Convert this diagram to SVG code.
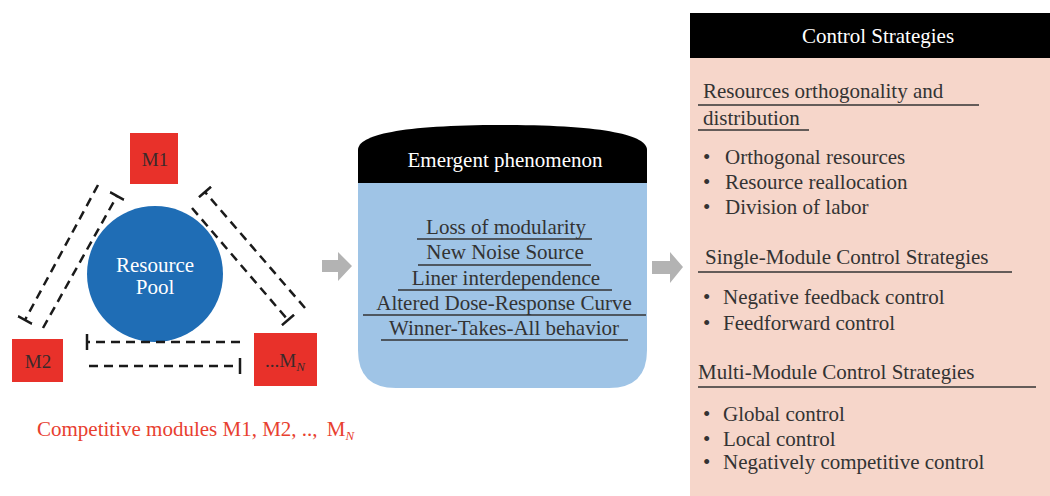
<svg xmlns="http://www.w3.org/2000/svg" width="1050" height="496" viewBox="0 0 1050 496">
<style>
text{font-family:"Liberation Serif","Times New Roman",serif;}
.mod{fill:#e8312a;}
.ml{fill:#3a2a2a;font-size:19px;text-anchor:middle;}
.dash{stroke:#1a1a1a;stroke-width:2.5;stroke-dasharray:9,6;fill:none;marker-end:url(#tbar);}
.garrow{fill:#b3b3b3;}
.item{fill:#333;font-size:21px;text-anchor:middle;}
.ul{stroke:#333;stroke-width:1.6;}
.rt{fill:#333;font-size:21px;}
.hd{fill:#fff;font-size:21px;text-anchor:middle;}
</style>
<defs>
<marker id="tbar" markerWidth="4" markerHeight="16" refX="2" refY="8" orient="auto" markerUnits="userSpaceOnUse">
<line x1="2" y1="0" x2="2" y2="16" stroke="#1a1a1a" stroke-width="2.5"/>
</marker>
</defs>
<rect width="1050" height="496" fill="#fff"/>

<g id="pool">
<circle cx="155" cy="274" r="68" fill="#1f6db5"/>
<text x="155" y="272" fill="#fff" font-size="21" text-anchor="middle">Resource</text>
<text x="155" y="294" fill="#fff" font-size="21" text-anchor="middle">Pool</text>
</g>
<g id="m1">
<rect class="mod" x="130" y="133" width="48" height="51"/>
<text class="ml" x="155" y="166">M1</text>
</g>
<g id="m2">
<rect class="mod" x="12" y="339" width="51" height="43"/>
<text class="ml" x="38" y="368">M2</text>
</g>
<g id="mn">
<rect class="mod" x="254" y="333" width="63" height="53"/>
<text class="ml" x="285" y="367">...M<tspan font-size="13" font-style="italic" dy="4">N</tspan></text>
</g>
<g id="connectors">
<line class="dash" x1="98" y1="185" x2="25" y2="320"/>
<line class="dash" x1="43" y1="328" x2="117" y2="196"/>
<line class="dash" x1="192" y1="208" x2="288" y2="320"/>
<line class="dash" x1="305" y1="308" x2="205" y2="192"/>
<line class="dash" x1="240" y1="342" x2="87" y2="342"/>
<line class="dash" x1="89" y1="366" x2="240" y2="366"/>
<polygon class="garrow" points="322,260 338,260 338,252 352,266 338,281 338,272 322,272"/>
<polygon class="garrow" points="652,261 670,261 670,252 683,267 670,283 670,274 652,274"/>
</g>
<g id="caption">
<text x="37" y="436" fill="#e8402f" font-size="21">Competitive modules M1, M2, .., <tspan dx="4">M</tspan><tspan font-size="13" font-style="italic" dy="4">N</tspan></text>
</g>

<g id="emergent">
<path d="M358,183 L358,150 C358,135 400,125 502,125 C604,125 647,135 647,150 L647,183 Z" fill="#000"/>
<path d="M358,183 L647,183 L647,350 Q647,388 609,388 L396,388 Q358,388 358,350 Z" fill="#9fc4e6"/>
<text class="hd" x="505" y="167">Emergent phenomenon</text>
<text class="item" x="506" y="234">Loss of modularity</text>
<line class="ul" x1="417" y1="239" x2="592" y2="239"/>
<text class="item" x="505" y="259">New Noise Source</text>
<line class="ul" x1="418" y1="265" x2="591" y2="265"/>
<text class="item" x="506" y="285">Liner interdependence</text>
<line class="ul" x1="398" y1="290" x2="612" y2="290"/>
<text class="item" x="504" y="310">Altered Dose-Response Curve</text>
<line class="ul" x1="363" y1="315" x2="646" y2="315"/>
<text class="item" x="504" y="335">Winner-Takes-All behavior</text>
<line class="ul" x1="381" y1="340" x2="628" y2="340"/>
</g>

<g id="control">
<rect x="690" y="13" width="360" height="483" fill="#f6d6ca"/>
<rect x="690" y="13" width="360" height="45" fill="#000"/>
<text class="hd" x="878" y="43">Control Strategies</text>
<text class="rt" x="703" y="98">Resources orthogonality and</text>
<line class="ul" x1="698" y1="105" x2="979" y2="105"/>
<text class="rt" x="703" y="125">distribution</text>
<line class="ul" x1="698" y1="130" x2="809" y2="130"/>
<text class="rt" x="703" y="164">•<tspan x="725">Orthogonal resources</tspan></text>
<text class="rt" x="703" y="189">•<tspan x="725">Resource reallocation</tspan></text>
<text class="rt" x="703" y="214">•<tspan x="725">Division of labor</tspan></text>
<text class="rt" x="705" y="264">Single-Module Control Strategies</text>
<line class="ul" x1="698" y1="272" x2="1012" y2="272"/>
<text class="rt" x="703" y="304">•<tspan x="723">Negative feedback control</tspan></text>
<text class="rt" x="703" y="330">•<tspan x="723">Feedforward control</tspan></text>
<text class="rt" x="698" y="379">Multi-Module Control Strategies</text>
<line class="ul" x1="698" y1="387" x2="1036" y2="387"/>
<text class="rt" x="703" y="421">•<tspan x="723">Global control</tspan></text>
<text class="rt" x="703" y="446">•<tspan x="723">Local control</tspan></text>
<text class="rt" x="703" y="469">•<tspan x="723">Negatively competitive control</tspan></text>
</g>
</svg>
